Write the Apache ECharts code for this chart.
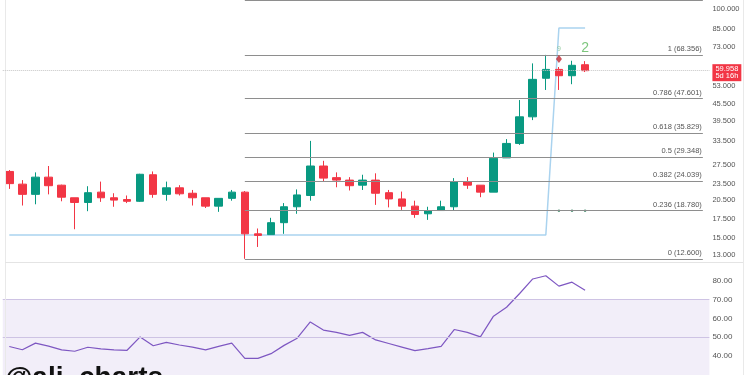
<!DOCTYPE html>
<html><head><meta charset="utf-8">
<script src="https://cdn.jsdelivr.net/npm/echarts@6/dist/echarts.min.js"></script>
<style>html,body{margin:0;padding:0;background:#fff}#c{width:750px;height:375px}</style>
</head><body><div id="c"></div>
<script>
// ---- data ----
const categories = Array.from({length: 54}, (_, i) => String(i));
const opens  = [26.0,23.4,21.5,24.8,23.2,20.9,20.1,21.9,20.9,20.6,20.3,25.3,21.5,22.7,21.7,20.9,19.5,20.8,21.9,15.5,15.4,17.0,19.4,21.3,27.2,24.7,24.2,23.2,24.2,21.8,20.7,19.5,18.3,18.8,19.4,23.9,23.2,21.9,29.1,32.8,40.9,56.3,60.6,57.5,63.0];
const closes = [23.5,21.5,24.8,23.1,21.0,20.1,21.8,20.9,20.5,20.3,25.4,21.5,22.7,21.6,20.9,19.5,20.8,21.9,15.5,15.3,17.0,19.4,21.4,27.2,24.6,24.2,23.1,24.2,21.7,20.7,19.5,18.2,18.8,19.4,23.9,23.2,21.9,29.0,32.8,40.9,55.8,60.6,57.5,62.7,59.958];
const lows   = [22.5,19.6,19.8,21.5,20.3,16.1,18.7,20.2,19.4,20.0,20.2,20.9,20.4,21.3,19.6,19.2,18.6,20.4,12.6,13.9,15.4,15.5,18.3,20.4,24.0,22.8,22.2,22.3,19.7,19.3,18.9,17.7,17.4,18.8,18.8,22.5,21.0,21.9,29.1,32.4,39.8,51.1,51.1,53.6,59.3];
const highs  = [26.3,24.2,25.8,27.2,23.3,20.9,23.0,23.9,21.7,21.3,25.5,26.0,23.9,23.2,22.3,20.9,20.8,22.3,22.1,16.2,17.7,20.0,22.4,33.5,28.4,25.8,24.8,25.3,25.6,22.3,22.0,20.4,19.4,20.4,24.6,24.8,23.2,30.4,34.0,47.0,63.7,68.356,61.8,65.1,64.9];
const trendLine = [15.35,15.35,15.35,15.35,15.35,15.35,15.35,15.35,15.35,15.35,15.35,15.35,15.35,15.35,15.35,15.35,15.35,15.35,15.35,15.35,15.35,15.35,15.35,15.35,15.35,15.35,15.35,15.35,15.35,15.35,15.35,15.35,15.35,15.35,15.35,15.35,15.35,15.35,15.35,15.35,15.35,15.35,85.4,85.4,85.4];
const rsi = [45.1,43.4,46.9,45.3,43.3,42.6,44.7,43.8,43.3,43.1,50.2,45.5,47.3,45.9,44.8,43.3,45.2,46.9,38.8,38.8,41.3,45.7,49.5,58.1,53.8,52.6,51.0,52.6,48.6,46.7,44.8,42.9,44.0,45.2,54.1,52.6,50.2,61.2,65.9,73.2,80.9,82.6,77.1,79.2,74.9];
const fibRatios = ['1.272','1','0.786','0.618','0.5','0.382','0.236','0'];
const fibValues = [107.2,68.356,47.601,35.829,29.348,24.039,18.780,12.600];
const fibStart = 18, fibEnd = 53;
const priceTicks = [100,85,73,53,45.5,39.5,33.5,27.5,23.5,20.5,17.5,15,13];
const rsiTicks = [40,50,60,70,80];
const lastPrice = 59.958;
const countdown = '5d 16h';
const signalDots = [[42,18.78],[43,18.78],[44,18.78]];
const diamondMark = [[42,66.1]];
const signalTexts = [[42,71.8,'9'],[44,72.4,'2']];

// ---- chart ----
const chart = echarts.init(document.getElementById('c'), null, {renderer:'canvas'});
const GL = 2.75, GR = 40.6;
const labelFont = 'Liberation Sans';
const option = {
  animation: false,
  backgroundColor: '#ffffff',
  grid: [
    {left: GL, right: GR, top: 0, height: 262},
    {left: GL, right: GR, top: 261.8, height: 115.8}
  ],
  xAxis: [
    {type:'category', data: categories, gridIndex:0, show:false, boundaryGap:true},
    {type:'category', data: categories, gridIndex:1, show:false, boundaryGap:true}
  ],
  yAxis: [
    {type:'log', gridIndex:0, min:12.27, max:107.75, show:false},
    {type:'value', gridIndex:1, min:30, max:90, interval:10, position:'right',
     axisLine:{show:false}, axisTick:{show:false}, splitLine:{show:false},
     axisLabel:{fontSize:8, color:'#555', margin:3, fontFamily: labelFont,
       formatter: v => rsiTicks.includes(v) ? v.toFixed(2) : ''}}
  ],
  series: [
    { // fib levels
      type:'line', xAxisIndex:0, yAxisIndex:0, data: [], silent:true,
      markLine: {
        symbol:['none','none'], silent:true, animation:false,
        lineStyle:{color:'#8e8e8e', width:1, type:'solid'},
        label:{show:true, position:'insideEndTop', fontSize:7.5, color:'#555', fontFamily: labelFont, distance:[1,2]},
        data: fibValues.map((v,i) => [
          {coord:[fibStart, v], label:{show: i > 0, formatter: fibRatios[i] + ' (' + v.toFixed(3) + ')'}},
          {coord:[fibEnd, v]}
        ])
      }
    },
    { // price scale labels
      type:'line', xAxisIndex:0, yAxisIndex:0, data: [], silent:true,
      markLine: {
        symbol:['none','none'], silent:true, animation:false,
        lineStyle:{color:'rgba(0,0,0,0)', width:1, type:'solid'},
        label:{show:true, position:'end', fontSize:7.5, color:'#555', distance:3, fontFamily: labelFont},
        data: priceTicks.map(v => ({yAxis:v, label:{formatter: v.toFixed(3)}}))
      }
    },
    { // trend line
      type:'line', xAxisIndex:0, yAxisIndex:0, data: trendLine, symbol:'none', silent:true,
      lineStyle:{color:'#aad3ef', width:1.5}, z:1
    },
    {
      type:'candlestick', xAxisIndex:0, yAxisIndex:0, barWidth:8, z:3,
      data: opens.map((o,i) => [o, closes[i], lows[i], highs[i]]),
      itemStyle:{color:'#089981', color0:'#F23645', borderColor:'#089981', borderColor0:'#F23645', borderWidth:1},
      markLine: {
        symbol:['none','none'], silent:true, animation:false, z:10,
        label:{show:true, position:'end', fontSize:7.5, distance:3, fontFamily: labelFont},
        data: [
          {yAxis:lastPrice, lineStyle:{type:'dotted', color:'#c4c4c4', width:1},
           label:{formatter: lastPrice.toFixed(3) + '\n' + countdown, backgroundColor:'#F23645', color:'#fff',
                  padding:[1,3,1,3], lineHeight:7.5, fontSize:7.5, offset:[0,2]}}
        ]
      }
    },
    {
      type:'scatter', xAxisIndex:0, yAxisIndex:0, data: signalDots, symbolSize:2.5, silent:true,
      itemStyle:{color:'#2e7d5b'}, z:4
    },
    {
      type:'scatter', xAxisIndex:0, yAxisIndex:0, data: diamondMark, symbol:'diamond', symbolSize:[6,8], silent:true,
      itemStyle:{color:'#c0262f'}, z:5
    },
    {
      type:'scatter', xAxisIndex:0, yAxisIndex:0, symbolSize:0, silent:true, z:5,
      data: signalTexts.map(d => ({value:d, label:{show:true, position:'inside', formatter:d[2],
        fontSize: d[2] === '2' ? 14 : 7, color: d[2] === '2' ? '#5cb85c' : '#7cc08a', fontFamily: labelFont}}))
    },
    { // RSI
      type:'line', xAxisIndex:1, yAxisIndex:1, data: rsi, symbol:'none', silent:true,
      lineStyle:{color:'#7E57C2', width:1.2}, z:3,
      markArea:{silent:true, itemStyle:{color:'#f2eef9'}, data:[[{yAxis:30},{yAxis:70}]]},
      markLine:{symbol:['none','none'], silent:true, label:{show:false},
        lineStyle:{color:'#cec3e4', width:1, type:'solid'}, data:[{yAxis:70},{yAxis:50}]}
    }
  ],
  graphic: [
    {type:'line', shape:{x1:5.5,y1:0,x2:5.5,y2:375}, style:{stroke:'#e9e9e9', lineWidth:1}, z:10},
    {type:'line', shape:{x1:743.5,y1:0,x2:743.5,y2:375}, style:{stroke:'#e9e9e9', lineWidth:1}, z:10},
    {type:'line', shape:{x1:5,y1:262.5,x2:743,y2:262.5}, style:{stroke:'#e4e4e4', lineWidth:1}, z:10},
    {type:'text', left:5, top:364, z:20,
     style:{text:'@ali_charts', font:'bold 28px "Liberation Sans", Arial, sans-serif', fill:'#111'}}
  ]
};
chart.setOption(option);
</script>
</body></html>
